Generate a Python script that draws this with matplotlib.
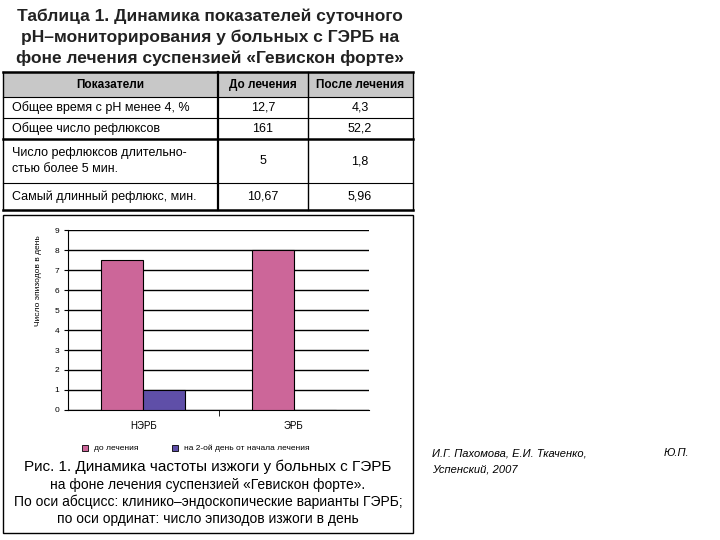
import matplotlib
matplotlib.use("Agg")
import matplotlib.pyplot as plt
from matplotlib.patches import Rectangle
from matplotlib.lines import Line2D

W, H = 720, 540

# table data
TABLE_HEADER = ["Показатели", "До лечения", "После лечения"]
TABLE_ROWS = [
    ("Общее время с pH менее 4, %", "12,7", "4,3"),
    ("Общее число рефлюксов", "161", "52,2"),
    ("Число рефлюксов длительно-\nстью более 5 мин.", "5", "1,8"),
    ("Самый длинный рефлюкс, мин.", "10,67", "5,96"),
]

# chart data
CATEGORIES = ["НЭРБ", "ЭРБ"]
BEFORE = [7.5, 8.0]
DAY2 = [1.0, 0.0]
SERIES_LABELS = ["до лечения", "на 2-ой день от начала лечения"]
PINK = "#CC6699"
BLUE = "#5F4FA8"

plt.rcParams["font.family"] = ["Liberation Sans", "DejaVu Sans"]

fig = plt.figure(figsize=(7.2, 5.4), dpi=100)


def fx(x):
    return x / W


def fy(y):
    return 1 - y / H


def hline(x0, x1, y, lw=1.0):
    fig.add_artist(Line2D([fx(x0), fx(x1)], [fy(y), fy(y)], color="black", lw=lw))


def vline(x, y0, y1, lw=1.0):
    fig.add_artist(Line2D([fx(x), fx(x)], [fy(y0), fy(y1)], color="black", lw=lw))


# title of table
for i, line in enumerate(["Таблица 1. Динамика показателей суточного",
                          "pH–мониторирования у больных с ГЭРБ на",
                          "фоне лечения суспензией «Гевискон форте»"]):
    fig.text(fx(210), fy(16 + i * 21), line, ha="center", va="center",
             fontsize=12.5, fontweight="bold", color="#222222")

# table
fig.add_artist(Rectangle((fx(3), fy(97)), fx(410), 25 / H, facecolor="#c8c8c8",
                         edgecolor="none", transform=fig.transFigure))
row_y = [72, 97, 118, 139, 183, 210]
for k, y in enumerate(row_y):
    hline(3, 413, y, lw=1.8 if k in (0, 3, 5) else 0.8)
vline(3, 72, 210)
vline(218, 72, 210, lw=1.6)
vline(308, 72, 210)
vline(413, 72, 210)
fig.text(fx(110), fy(85), TABLE_HEADER[0], ha="center", va="center", fontsize=8.5, fontweight="bold")
fig.text(fx(263), fy(85), TABLE_HEADER[1], ha="center", va="center", fontsize=8.5, fontweight="bold")
fig.text(fx(360), fy(85), TABLE_HEADER[2], ha="center", va="center", fontsize=8.5, fontweight="bold")
for (name, before, after), y0, y1 in zip(TABLE_ROWS, row_y[1:-1], row_y[2:]):
    yc = (y0 + y1) / 2
    fig.text(fx(12), fy(yc), name, ha="left", va="center", fontsize=9, linespacing=1.5)
    fig.text(fx(263), fy(yc), before, ha="center", va="center", fontsize=9)
    fig.text(fx(360), fy(yc), after, ha="center", va="center", fontsize=9)

# chart box
fig.add_artist(Rectangle((fx(3), fy(533)), fx(410), 318 / H, facecolor="none",
                         edgecolor="black", lw=1.0, transform=fig.transFigure))

ax = fig.add_axes([fx(68), fy(410), fx(301), 180 / H])
x = range(len(CATEGORIES))
w = 0.28
ax.bar([i - w / 2 for i in x], BEFORE, w, color=PINK, edgecolor="black", lw=0.8, zorder=3)
ax.bar([i + w / 2 for i in x], DAY2, w, color=BLUE, edgecolor="black", lw=0.8, zorder=3)
ax.set_xlim(-0.5, 1.5)
ax.set_ylim(0, 9)
ax.set_yticks(range(10))
ax.yaxis.grid(True, color="black", lw=1.0)
ax.set_axisbelow(True)
ax.set_xticks([0, 1])
ax.set_xticklabels(CATEGORIES, fontsize=7)
ax.set_xticks([0.5], minor=True)
ax.tick_params(axis="x", which="major", length=0, pad=8)
ax.tick_params(axis="x", which="minor", length=4)
ax.tick_params(axis="y", labelsize=6, length=3)
for s in ["top", "right"]:
    ax.spines[s].set_visible(False)
ax.set_ylabel("Число эпизодов в день", fontsize=6, labelpad=8)
ax.yaxis.set_label_coords(-0.085, 0.72)

# legend
for (xs, label, c) in [(82, SERIES_LABELS[0], PINK), (172, SERIES_LABELS[1], BLUE)]:
    fig.add_artist(Rectangle((fx(xs), fy(451)), 6 / W, 6 / H, facecolor=c,
                             edgecolor="black", lw=0.6, transform=fig.transFigure))
    fig.text(fx(xs + 12), fy(448), label, ha="left", va="center", fontsize=6)

caption = ["Рис. 1. Динамика частоты изжоги у больных с ГЭРБ",
           "на фоне лечения суспензией «Гевискон форте».",
           "По оси абсцисс: клинико–эндоскопические варианты ГЭРБ;",
           "по оси ординат: число эпизодов изжоги в день"]
for i, line in enumerate(caption):
    fig.text(fx(208), fy(467 + i * 17.5), line, ha="center", va="center",
             fontsize=11 if i == 0 else 10)

fig.text(fx(432), fy(453), "И.Г. Пахомова, Е.И. Ткаченко,", ha="left", va="center",
         fontsize=8, style="italic")
fig.text(fx(664), fy(453), "Ю.П.", ha="left", va="center", fontsize=8, style="italic")
fig.text(fx(432), fy(469), "Успенский, 2007", ha="left", va="center",
         fontsize=8, style="italic")

fig.savefig("out.png", dpi=100)
